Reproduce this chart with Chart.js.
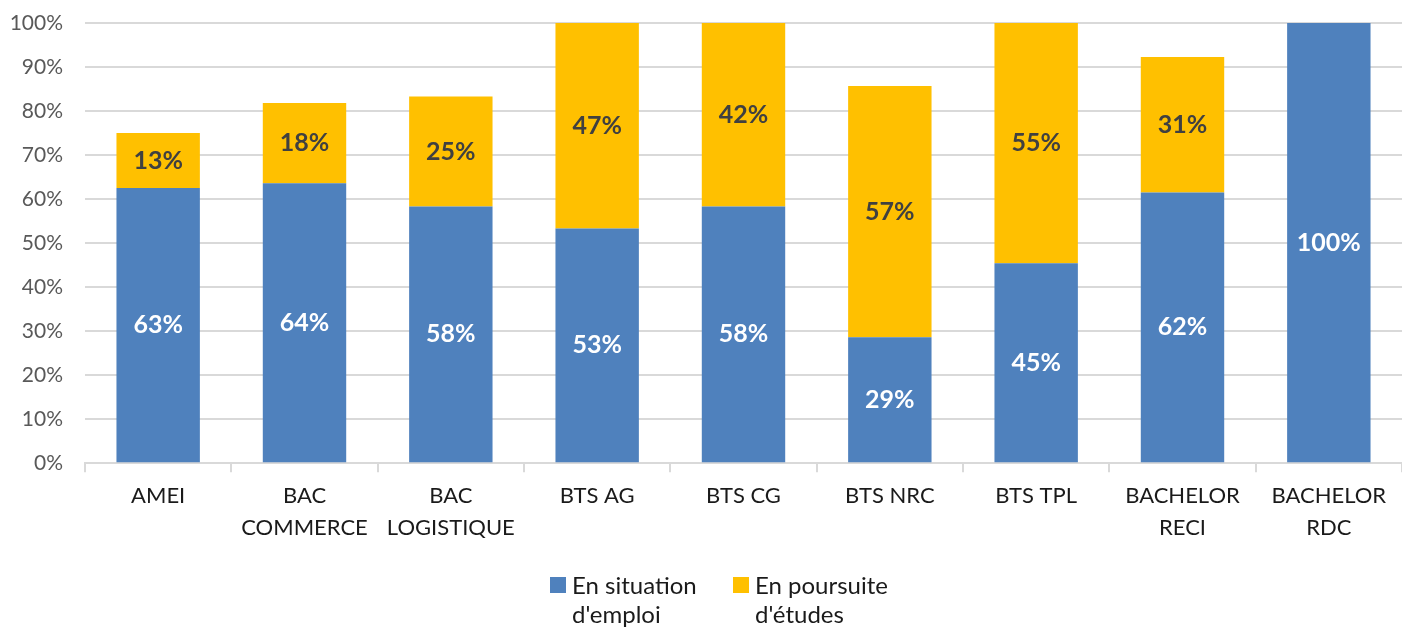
<!DOCTYPE html>
<html>
<head>
<meta charset="utf-8">
<script src="https://cdn.jsdelivr.net/npm/chart.js@4/dist/chart.umd.min.js"></script>
<style>
  html, body { margin: 0; padding: 0; background: #fff; }
  #wrap { width: 1402px; height: 630px; position: relative; }
</style>
</head>
<body>
<div id="wrap"><canvas id="chart"></canvas></div>
<script>
const categories = [
    'AMEI', ['BAC', 'COMMERCE'], ['BAC', 'LOGISTIQUE'], 'BTS AG', 'BTS CG',
    'BTS NRC', 'BTS TPL', ['BACHELOR', 'RECI'], ['BACHELOR', 'RDC']
];
const emploi = [62.5, 63.6, 58.3, 53.3, 58.3, 28.6, 45.4, 61.5, 100];
const etudes = [12.5, 18.2, 25.0, 46.7, 41.7, 57.1, 54.6, 30.8, 0];
const legendLabels = [['En situation', "d'emploi"], ['En poursuite', "d'études"]];
const colors = ['#4f81bd', '#ffc000'];
const labelColors = ['#ffffff', '#404040'];

const FONT = 'Lato, "Open Sans", sans-serif';

// values written in the middle of each segment
const barLabels = {
    id: 'barLabels',
    afterDatasetsDraw(chart) {
        const ctx = chart.ctx;
        ctx.save();
        ctx.font = 'bold 25px ' + FONT;
        ctx.textAlign = 'center';
        ctx.textBaseline = 'middle';
        chart.data.datasets.forEach((ds, i) => {
            chart.getDatasetMeta(i).data.forEach((bar, j) => {
                const v = ds.data[j];
                if (!v) return;
                ctx.fillStyle = labelColors[i];
                ctx.fillText(Math.round(v) + '%', bar.x, (bar.y + bar.base) / 2);
            });
        });
        ctx.restore();
    }
};

// legend with two-line labels
const bottomLegend = {
    id: 'bottomLegend',
    afterDraw(chart) {
        const ctx = chart.ctx;
        ctx.save();
        ctx.font = '24px ' + FONT;
        ctx.textBaseline = 'middle';
        ctx.textAlign = 'left';
        const xs = [550, 733];
        legendLabels.forEach((lines, i) => {
            ctx.fillStyle = colors[i];
            ctx.fillRect(xs[i], 577, 16, 16);
            ctx.fillStyle = '#1a1a1a';
            lines.forEach((t, k) => ctx.fillText(t, xs[i] + 22, 586 + k * 29));
        });
        ctx.restore();
    }
};

new Chart(document.getElementById('chart'), {
    type: 'bar',
    data: {
        labels: categories,
        datasets: [
            { label: legendLabels[0].join(' '), data: emploi, backgroundColor: colors[0],
              barPercentage: 0.57, categoryPercentage: 1 },
            { label: legendLabels[1].join(' '), data: etudes, backgroundColor: colors[1],
              barPercentage: 0.57, categoryPercentage: 1 }
        ]
    },
    options: {
        responsive: true,
        maintainAspectRatio: false,
        animation: false,
        layout: { padding: { top: 23, right: 0, left: 0, bottom: 78 } },
        plugins: {
            legend: { display: false },
            tooltip: { enabled: false }
        },
        scales: {
            x: {
                stacked: true,
                grid: {
                    drawOnChartArea: false,
                    drawTicks: true,
                    tickLength: 9,
                    color: '#d9d9d9',
                    lineWidth: 2
                },
                border: { color: '#d9d9d9', width: 2 },
                ticks: {
                    color: '#1a1a1a',
                    font: { family: FONT, size: 22, lineHeight: 1.45 },
                    padding: 8,
                    maxRotation: 0,
                    autoSkip: false
                }
            },
            y: {
                stacked: true,
                min: 0,
                max: 100,
                border: { display: false },
                grid: { color: '#d9d9d9', lineWidth: 2, drawTicks: false },
                afterFit: scale => {
                    scale.width = 85;
                    scale.paddingTop = 0;
                },
                ticks: {
                    stepSize: 10,
                    color: '#595959',
                    padding: 22,
                    font: { family: FONT, size: 21 },
                    callback: v => v + '%'
                }
            }
        }
    },
    plugins: [barLabels, bottomLegend]
});
</script>
</body>
</html>
